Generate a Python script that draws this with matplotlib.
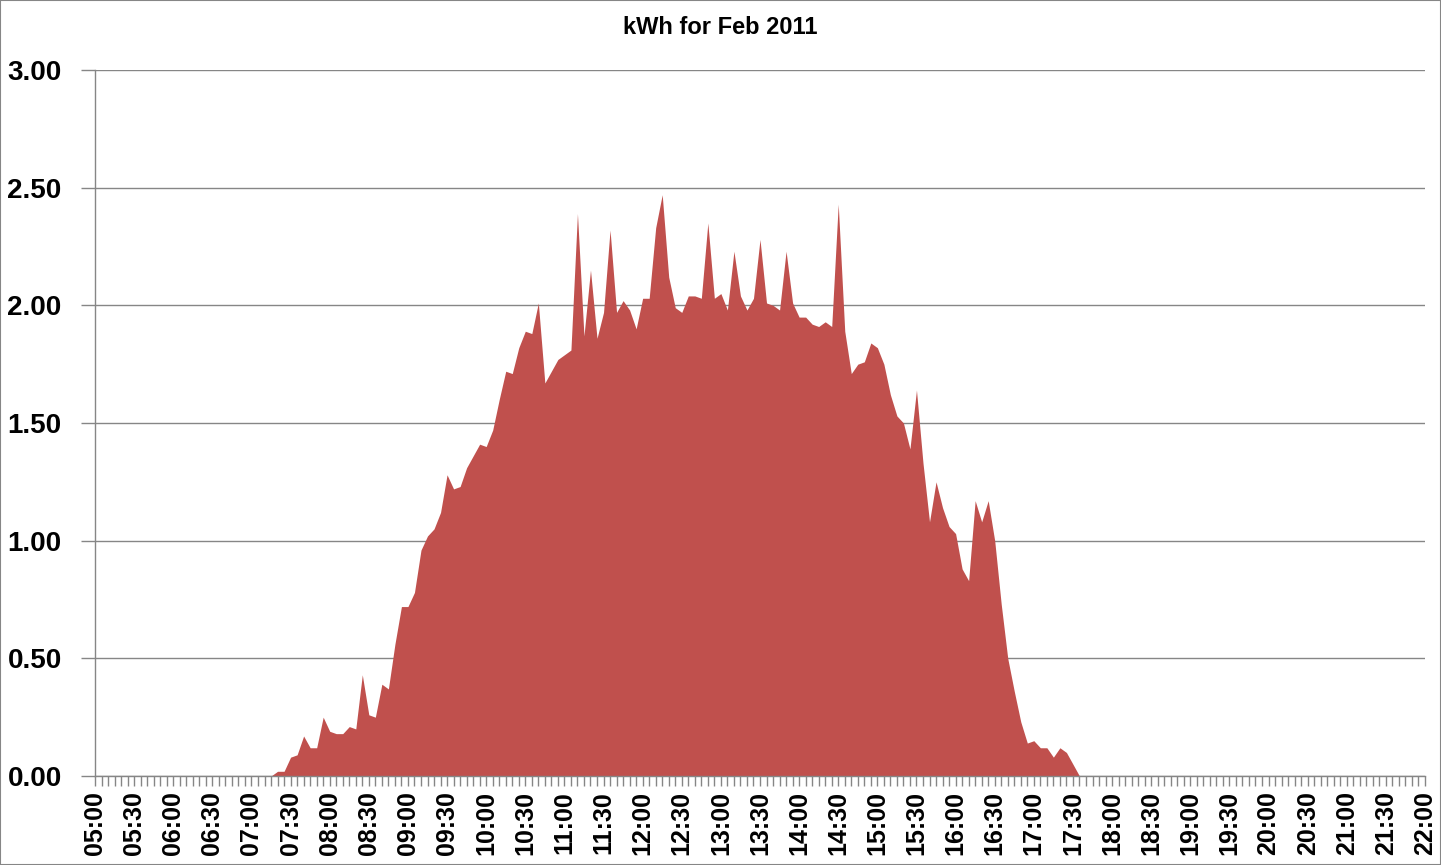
import matplotlib
matplotlib.use("Agg")
import matplotlib.pyplot as plt
import pandas as pd

# kWh per 5 minutes, Feb 2011
start_time = "07:15"
kwh = [0.00, 0.02, 0.02, 0.08, 0.09, 0.17, 0.12, 0.12, 0.25, 0.19,
       0.18, 0.18, 0.21, 0.20, 0.43, 0.26, 0.25, 0.39, 0.37, 0.56,
       0.72, 0.72, 0.78, 0.96, 1.02, 1.05, 1.12, 1.28, 1.22, 1.23,
       1.31, 1.36, 1.41, 1.40, 1.47, 1.60, 1.72, 1.71, 1.82, 1.89,
       1.88, 2.01, 1.67, 1.72, 1.77, 1.79, 1.81, 2.39, 1.87, 2.15,
       1.86, 1.97, 2.32, 1.97, 2.02, 1.98, 1.90, 2.03, 2.03, 2.33,
       2.47, 2.12, 1.99, 1.97, 2.04, 2.04, 2.03, 2.35, 2.03, 2.05,
       1.98, 2.23, 2.04, 1.98, 2.03, 2.28, 2.01, 2.00, 1.98, 2.23,
       2.01, 1.95, 1.95, 1.92, 1.91, 1.93, 1.91, 2.43, 1.89, 1.71,
       1.75, 1.76, 1.84, 1.82, 1.75, 1.62, 1.53, 1.50, 1.39, 1.64,
       1.33, 1.08, 1.25, 1.14, 1.06, 1.03, 0.88, 0.83, 1.17, 1.08,
       1.17, 1.00, 0.73, 0.50, 0.36, 0.23, 0.14, 0.15, 0.12, 0.12,
       0.08, 0.12, 0.10, 0.05, 0.00]

axis_start = "05:00"
axis_end = "22:00"
y_ticks = [0.0, 0.5, 1.0, 1.5, 2.0, 2.5, 3.0]

times = pd.date_range("2011-02-01 " + start_time, periods=len(kwh), freq="5min")
t0 = pd.Timestamp("2011-02-01 " + axis_start)
t1 = pd.Timestamp("2011-02-01 " + axis_end)
x = [(t - t0).total_seconds() / 300 for t in times]
n_slots = int((t1 - t0).total_seconds() / 300)

plt.rcParams["font.family"] = ["Liberation Sans", "DejaVu Sans"]

fig = plt.figure(figsize=(14.41, 8.65), dpi=100)
ax = fig.add_axes([95 / 1441, 1 - 776 / 865, 1330 / 1441, 706 / 865])

ax.fill_between(x, kwh, 0, color="#C0504D", linewidth=0)

ax.set_xlim(0, n_slots)
ax.set_ylim(0, 3)

ax.set_yticks(y_ticks)
ax.set_yticklabels([f"{v:.2f}" for v in y_ticks], fontsize=20, fontweight="bold")
ax.yaxis.grid(True, color="#868686", linewidth=1)
ax.set_axisbelow(True)

major = list(range(0, n_slots + 1, 6))
labels = [(t0 + pd.Timedelta(minutes=5 * m)).strftime("%H:%M") for m in major]
ax.set_xticks(major)
ax.set_xticklabels(labels, rotation=90, fontsize=18, fontweight="bold")
ax.set_xticks(range(0, n_slots + 1), minor=True)

ax.tick_params(axis="y", length=10, width=1, color="#868686", pad=14)
ax.tick_params(axis="x", which="both", length=7, width=1, color="#868686",
               direction="out", pad=4)

for s in ["top", "right"]:
    ax.spines[s].set_visible(False)
for s in ["left", "bottom"]:
    ax.spines[s].set_color("#868686")
    ax.spines[s].set_linewidth(1)

fig.text(0.5, 1 - 27 / 865, "kWh for Feb 2011", ha="center", va="center",
         fontsize=17, fontweight="bold")

fig.patches.append(plt.Rectangle((0, 0), 1, 1, transform=fig.transFigure,
                                 fill=False, edgecolor="#868686", linewidth=1.5))

fig.savefig("out.png", dpi=100)
